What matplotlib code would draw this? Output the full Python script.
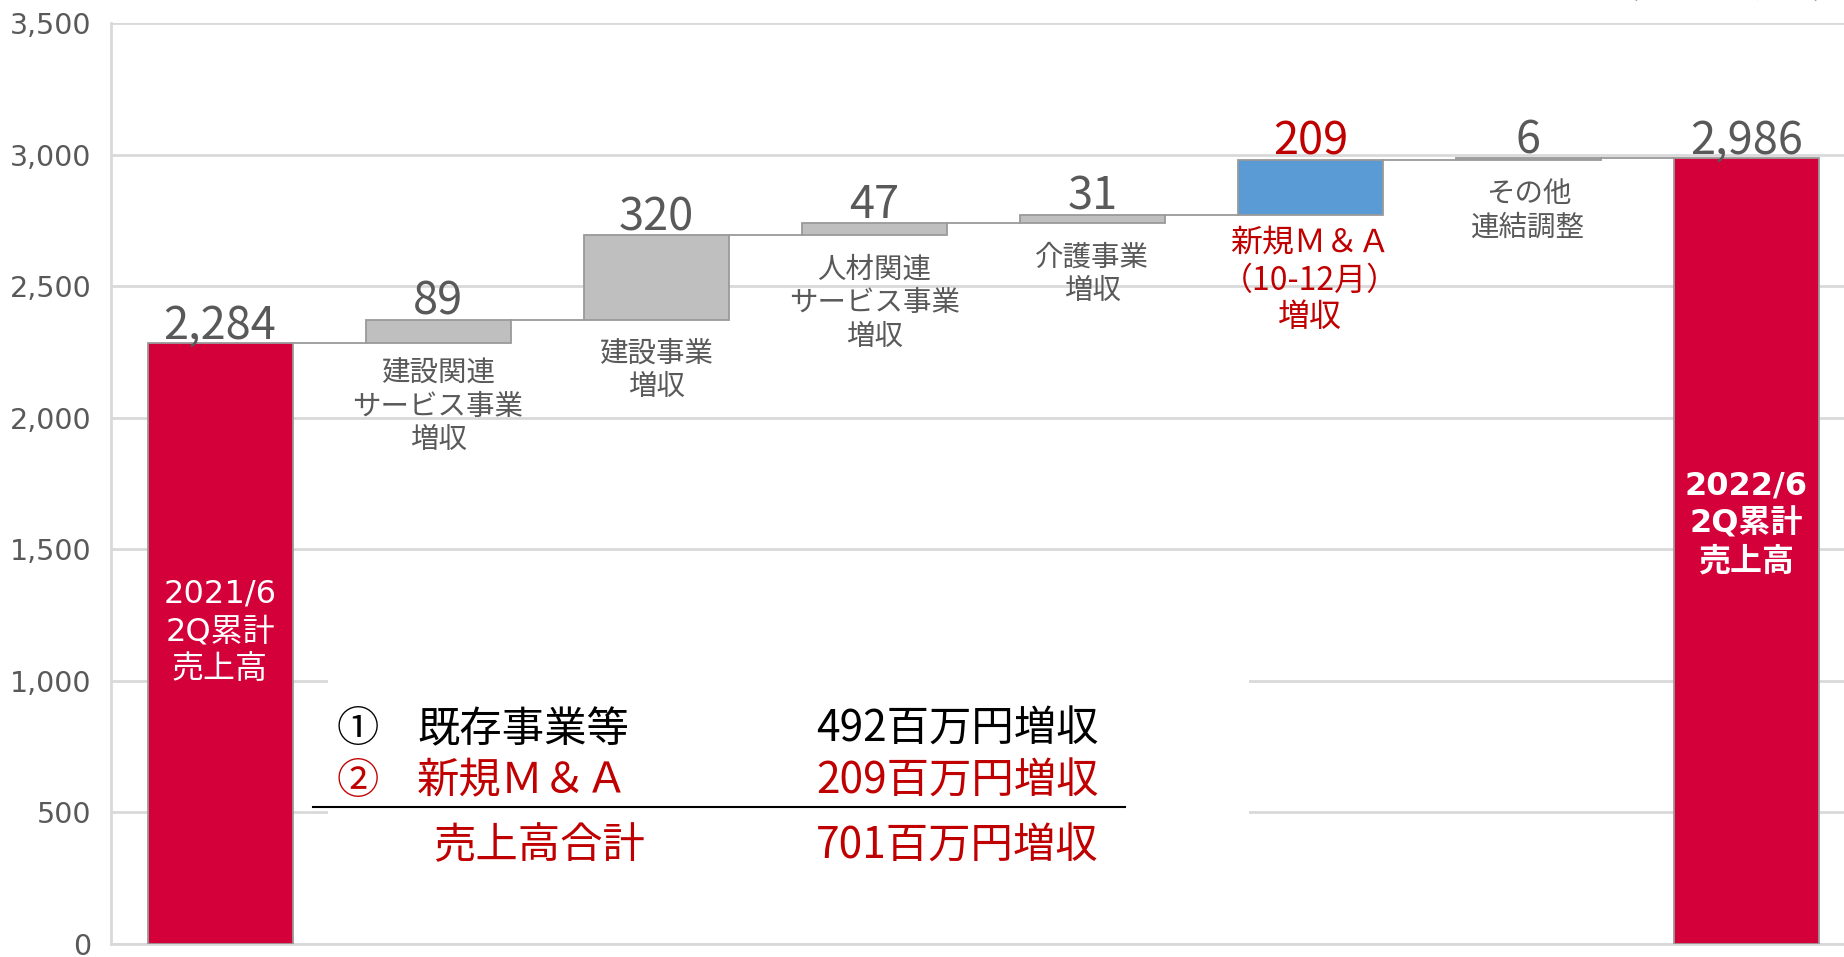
import matplotlib
matplotlib.use('Agg')
import matplotlib.pyplot as plt
import matplotlib.transforms as mtransforms
from matplotlib.patches import Rectangle
import numpy as np

plt.rcParams['font.family'] = ['Noto Sans CJK JP', 'DejaVu Sans']

# ---------------- data ----------------
categories = ['2021/6\n2Q累計\n売上高',
              '建設関連\nサービス事業\n増収',
              '建設事業\n増収',
              '人材関連\nサービス事業\n増収',
              '介護事業\n増収',
              '新規Ｍ＆Ａ\n（10-12月）\n増収',
              'その他\n連結調整',
              '2022/6\n2Q累計\n売上高']
start_value = 2284
increments = [89, 320, 47, 31, 209, 6]
end_value = 2986
value_labels = ['2,284', '89', '320', '47', '31', '209', '6', '2,986']
y_ticks = [0, 500, 1000, 1500, 2000, 2500, 3000, 3500]
y_tick_labels = ['0', '500', '1,000', '1,500', '2,000', '2,500', '3,000', '3,500']
unit_label = '（単位：百万円）'
summary_marks = ['①', '②', '']
summary_names = ['既存事業等', '新規Ｍ＆Ａ', '売上高合計']
summary_amounts = ['492百万円増収', '209百万円増収', '701百万円増収']

# ---------------- styles ----------------
RED = '#D40039'
GRAY_BAR = '#BFBFBF'
BLUE = '#5B9BD5'
TXT = '#595959'
DRED = '#C00000'
GRID = '#D9D9D9'

bar_colors = [RED, GRAY_BAR, GRAY_BAR, GRAY_BAR, GRAY_BAR, BLUE, GRAY_BAR, RED]
value_colors = [TXT, TXT, TXT, TXT, TXT, DRED, TXT, TXT]
label_colors = [None, TXT, TXT, TXT, TXT, DRED, TXT, None]
label_sizes = [None, 20.5, 20.5, 20.5, 20.5, 23, 20.5, None]
label_offsets = [None, -11, -14, -14, -14, -9, -14, None]
label_spacing = [None, 1.15, 1.15, 1.15, 1.15, 1.2, 1.15, None]

# waterfall geometry
heights = [start_value] + increments + [end_value]
bottoms = [0]
running = start_value
for inc in increments:
    bottoms.append(running)
    running += inc
bottoms.append(0)
x = np.arange(len(heights))
width = 0.665

fig = plt.figure(figsize=(18.44, 9.57), dpi=100)
ax = fig.add_axes([111 / 1844, 13 / 957, 1744.5 / 1844, 921 / 957])
ax.set_xlim(-0.5, len(heights) - 0.5)
ax.set_ylim(0, 3500)

ax.set_axisbelow(True)
ax.yaxis.grid(True, color=GRID, linewidth=2)
ax.set_yticks(y_ticks)
ax.set_yticklabels(y_tick_labels, family=['DejaVu Sans'], fontsize=20.5, color=TXT)
ax.tick_params(axis='y', length=0, pad=14)
ax.set_xticks([])
for s in ['top', 'right']:
    ax.spines[s].set_visible(False)
for s in ['left', 'bottom']:
    ax.spines[s].set_color(GRID)
    ax.spines[s].set_linewidth(2)

# white panel behind summary table (hides gridlines)
ax.add_patch(Rectangle((0.1244, 0.012), 0.528, 0.36, transform=ax.transAxes,
                       facecolor='white', edgecolor='none', zorder=1))

ax.bar(x, heights, width=width, bottom=bottoms, color=bar_colors,
       edgecolor='#9A9A9A', linewidth=1.3, zorder=3)

# connectors
for i in range(len(heights) - 1):
    level = bottoms[i] + heights[i]
    ax.plot([x[i] + width / 2, x[i + 1] - width / 2], [level, level],
            color='#9A9A9A', linewidth=1.3, zorder=2)

# value labels
for i in range(len(heights)):
    top = bottoms[i] + heights[i]
    ax.annotate(value_labels[i], (x[i], top), xytext=(0, 3.5), textcoords='offset points',
                ha='center', va='baseline', fontsize=32.5, color=value_colors[i], zorder=5)

# category labels under floating bars
for i in range(1, len(heights) - 1):
    ax.annotate(categories[i], (x[i], bottoms[i]), xytext=(0, label_offsets[i]),
                textcoords='offset points', ha='center', va='top', fontsize=label_sizes[i],
                color=label_colors[i], linespacing=label_spacing[i], zorder=5)

# labels inside the total bars
blend = mtransforms.blended_transform_factory(ax.transData, ax.transAxes)
ax.text(x[0], 0.339, categories[0], transform=blend, ha='center', va='center',
        fontsize=23, color='white', linespacing=1.27,
        family=['DejaVu Sans', 'Noto Sans CJK JP'], zorder=5)
ax.text(x[-1], 0.456, categories[-1], transform=blend, ha='center', va='center',
        fontsize=23, color='white', linespacing=1.27, fontweight='bold',
        family=['DejaVu Sans', 'Noto Sans CJK JP'], zorder=5)

# summary table
row_y = [0.2324, 0.1762, 0.1059]
row_colors = ['black', DRED, DRED]
name_x = [0.1754, 0.1754, 0.1845]
for r in range(3):
    if summary_marks[r]:
        ax.text(0.1296, row_y[r], summary_marks[r], transform=ax.transAxes, ha='left',
                va='center', fontsize=30.5, color=row_colors[r], zorder=6)
    ax.text(name_x[r], row_y[r], summary_names[r], transform=ax.transAxes, ha='left',
            va='center', fontsize=30.5, color=row_colors[r], zorder=6)
    ax.text(0.4041, row_y[r], summary_amounts[r], transform=ax.transAxes, ha='left',
            va='center', fontsize=30.5, color=row_colors[r], zorder=6)
ax.plot([0.1158, 0.5813], [0.1488, 0.1488], transform=ax.transAxes, color='black',
        linewidth=1.5, zorder=6)

# unit label (cut at the top edge as in the original)
fig.text(0.9995, 1 + 2 / 957, unit_label, ha='right', va='baseline', fontsize=21, color=TXT)

fig.savefig('out.png', dpi=100)
